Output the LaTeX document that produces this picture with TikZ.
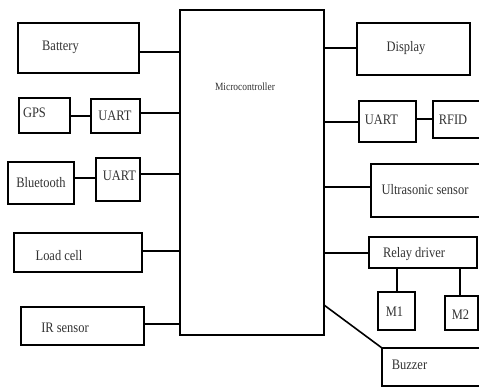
\documentclass[tikz,border=0pt]{standalone}
\usepackage{fontspec}
\setmainfont{Liberation Serif}
\newfontfamily\lblfont[FakeStretch=0.86]{Liberation Serif}
\begin{document}
\begin{tikzpicture}[x=1pt,y=-1pt,
  box/.style={draw=black, line width=1.7pt, inner sep=0pt, outer sep=0pt, fill=none},
  conn/.style={draw=black, line width=1.6pt},
  lbl/.style={inner sep=0pt, font=\lblfont\fontsize{14.5}{16}\selectfont, text=black!80},
  mclbl/.style={inner sep=0pt, font=\lblfont\fontsize{11}{12}\selectfont, text=black!80}]
\path[use as bounding box, clip] (0,0) rectangle (479,388);
\fill[white] (0,0) rectangle (479,388);
% boxes
\node[box, minimum width=144pt, minimum height=325pt] (mc) at (252,172.5) {};
\node[box, minimum width=121pt, minimum height=50pt] (bat) at (78.5,48) {};
\node[box, minimum width=51pt, minimum height=35pt] (gps) at (44.5,115.5) {};
\node[box, minimum width=49pt, minimum height=34pt] (u1) at (115.5,116) {};
\node[box, minimum width=66pt, minimum height=42pt] (bt) at (41,183) {};
\node[box, minimum width=44pt, minimum height=43pt] (u2) at (118,179.5) {};
\node[box, minimum width=128pt, minimum height=39pt] (lc) at (78,252.5) {};
\node[box, minimum width=123pt, minimum height=38pt] (ir) at (82.5,326) {};
\node[box, minimum width=113pt, minimum height=52pt] (disp) at (413.5,49) {};
\node[box, minimum width=57pt, minimum height=41pt] (u3) at (387.5,121.5) {};
\node[box, minimum width=60pt, minimum height=37pt] (rfid) at (463,119.5) {};
\node[box, minimum width=116pt, minimum height=53pt] (us) at (429,190.5) {};
\node[box, minimum width=108pt, minimum height=31pt] (rd) at (423,252.5) {};
\node[box, minimum width=37pt, minimum height=38pt] (m1) at (396.5,311) {};
\node[box, minimum width=33pt, minimum height=34pt] (m2) at (461.5,313) {};
\node[box, minimum width=110pt, minimum height=38pt] (bz) at (437,367) {};
% labels
\node[mclbl] (mcT) at (245,87) {Microcontroller};
\node[lbl] (batT) at (60.5,47) {Battery};
\node[lbl] (gpsT) at (34.5,113) {GPS};
\node[lbl] (u1T) at (115,116) {UART};
\node[lbl] (btT) at (41,183) {Bluetooth};
\node[lbl] (u2T) at (119.5,176) {UART};
\node[lbl] (lcT) at (59,256) {Load cell};
\node[lbl] (irT) at (65,328) {IR sensor};
\node[lbl] (dispT) at (406,48) {Display};
\node[lbl] (u3T) at (381.5,120) {UART};
\node[lbl] (rfidT) at (453,120) {RFID};
\node[lbl] (usT) at (425,190) {Ultrasonic sensor};
\node[lbl] (rdT) at (414,254) {Relay driver};
\node[lbl] (m1T) at (394.5,312) {M1};
\node[lbl] (m2T) at (460.5,315) {M2};
\node[lbl] (bzT) at (409.5,365) {Buzzer};
% connectors
\draw[conn] (bat.east |- 0,52) -- (mc.west |- 0,52);
\draw[conn] (gps.east |- 0,116) -- (u1.west |- 0,116);
\draw[conn] (u1.east |- 0,113) -- (mc.west |- 0,113);
\draw[conn] (bt.east |- 0,178) -- (u2.west |- 0,178);
\draw[conn] (u2.east |- 0,174) -- (mc.west |- 0,174);
\draw[conn] (lc.east |- 0,251) -- (mc.west |- 0,251);
\draw[conn] (ir.east |- 0,324) -- (mc.west |- 0,324);
\draw[conn] (mc.east |- 0,48) -- (disp.west |- 0,48);
\draw[conn] (mc.east |- 0,122) -- (u3.west |- 0,122);
\draw[conn] (u3.east |- 0,119) -- (rfid.west |- 0,119);
\draw[conn] (mc.east |- 0,187) -- (us.west |- 0,187);
\draw[conn] (mc.east |- 0,253) -- (rd.west |- 0,253);
\draw[conn] (rd.south -| 397,0) -- (m1.north -| 397,0);
\draw[conn] (rd.south -| 460,0) -- (m2.north -| 460,0);
\draw[conn] (mc.east |- 0,305) -- (bz.north west);
\end{tikzpicture}
\end{document}
